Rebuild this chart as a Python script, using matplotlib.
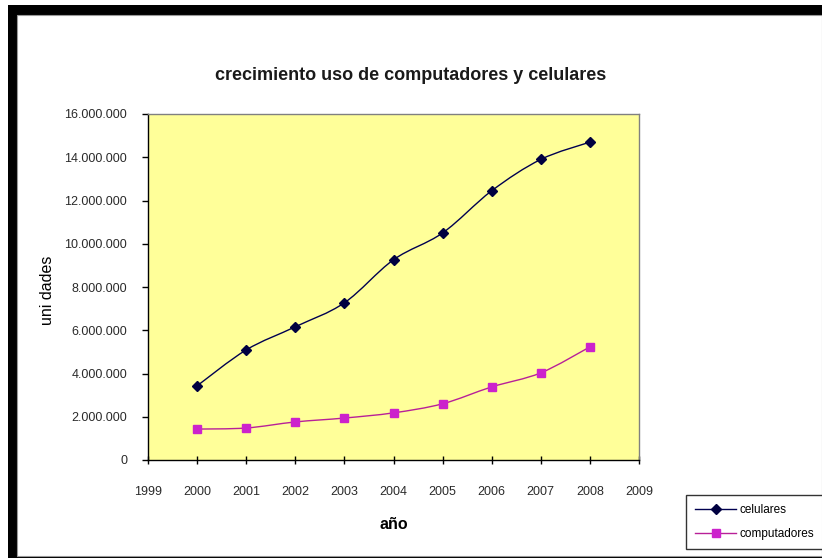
import matplotlib
matplotlib.use("Agg")
import matplotlib.pyplot as plt
from matplotlib.path import Path
from matplotlib.patches import PathPatch, Rectangle
from matplotlib.lines import Line2D
from matplotlib.ticker import FuncFormatter, MultipleLocator

plt.rcParams['font.family'] = ['Liberation Sans', 'DejaVu Sans']

years = [2000, 2001, 2002, 2003, 2004, 2005, 2006, 2007, 2008]
celulares = [3430000, 5090000, 6160000, 7270000, 9260000, 10500000, 12450000, 13900000, 14700000]
computadores = [1430000, 1480000, 1760000, 1940000, 2180000, 2600000, 3380000, 4030000, 5230000]

title = "crecimiento uso de computadores y celulares"
xlabel = "año"
ylabel = "uni dades"


def smooth_path(xs, ys):
    # Catmull-Rom segments written as cubic Bezier curves
    pts = list(zip(xs, ys))
    verts = [pts[0]]
    codes = [Path.MOVETO]
    n = len(pts)
    for i in range(n - 1):
        p0 = pts[i - 1] if i > 0 else pts[i]
        p1 = pts[i]
        p2 = pts[i + 1]
        p3 = pts[i + 2] if i + 2 < n else pts[i + 1]
        c1 = (p1[0] + (p2[0] - p0[0]) / 6, p1[1] + (p2[1] - p0[1]) / 6)
        c2 = (p2[0] - (p3[0] - p1[0]) / 6, p2[1] - (p3[1] - p1[1]) / 6)
        verts += [c1, c2, p2]
        codes += [Path.CURVE4] * 3
    return Path(verts, codes)


fig = plt.figure(figsize=(8.22, 5.58), dpi=100)
fig.patch.set_facecolor('white')

# black frame on top and left
W, H = 822, 558
fig.patches.append(Rectangle((8 / W, 0), 1 - 8 / W, 1 - 5 / H, transform=fig.transFigure,
                             facecolor='black', edgecolor='none', zorder=-2))
fig.patches.append(Rectangle((17 / W, 2 / H), 1 - 17 / W, 1 - 17 / H, transform=fig.transFigure,
                             facecolor='white', edgecolor='#999999', linewidth=0.8, zorder=-1))

ax = fig.add_axes([148 / W, 1 - 460 / H, (639 - 148) / W, (460 - 114) / H])
ax.set_facecolor('#FFFF99')

series = [
    (celulares, '#000050', '#000040', 'D', 5, 'celulares'),
    (computadores, '#B82098', '#CC22CC', 's', 6, 'computadores'),
]
handles = []
for vals, lc, mc, mk, ms, name in series:
    ax.add_patch(PathPatch(smooth_path(years, vals), facecolor='none', edgecolor=lc,
                           linewidth=1.0, zorder=3))
    ax.plot(years, vals, linestyle='none', marker=mk, markersize=ms,
            markerfacecolor=mc, markeredgecolor=mc, zorder=4)
    handles.append(Line2D([], [], color=lc, linewidth=1.0, marker=mk, markersize=ms,
                          markerfacecolor=mc, markeredgecolor=mc, label=name))

ax.set_xlim(1999, 2009)
ax.set_ylim(0, 16000000)
ax.xaxis.set_major_locator(MultipleLocator(1))
ax.yaxis.set_major_locator(MultipleLocator(2000000))
ax.xaxis.set_major_formatter(FuncFormatter(lambda v, p: f"{int(round(v))}"))
ax.yaxis.set_major_formatter(FuncFormatter(lambda v, p: f"{int(v):,}".replace(',', '.')))

for side in ['top', 'right']:
    ax.spines[side].set_color('#808080')
    ax.spines[side].set_linewidth(1.0)
for side in ['left', 'bottom']:
    ax.spines[side].set_color('black')
    ax.spines[side].set_linewidth(1.0)

ax.tick_params(axis='y', direction='out', length=4, width=1, labelsize=9, pad=11, colors='black')
ax.tick_params(axis='x', direction='inout', length=6, width=1, labelsize=9, pad=16, colors='black')
for lbl in ax.get_xticklabels() + ax.get_yticklabels():
    lbl.set_color('#2a2a2a')

ax.set_ylabel(ylabel, fontsize=11.5)
ax.yaxis.set_label_coords(-0.19, 0.49)
ax.set_xlabel(xlabel, fontsize=11.5, fontweight='bold')
ax.xaxis.set_label_coords(0.5, -0.165)

fig.text(411 / W, 1 - 75 / H, title, ha='center', va='center', fontsize=13, fontweight='bold',
         color='#1a1a1a')

leg = fig.legend(handles=handles, loc='upper left', bbox_to_anchor=(686 / W, 1 - 495 / H),
                 frameon=True, fancybox=False, edgecolor='black', fontsize=8.5,
                 handlelength=3.4, borderpad=0.8, labelspacing=0.95, handletextpad=0.3,
                 borderaxespad=0)
leg.get_frame().set_linewidth(1.0)

fig.savefig('out.png', dpi=100)
